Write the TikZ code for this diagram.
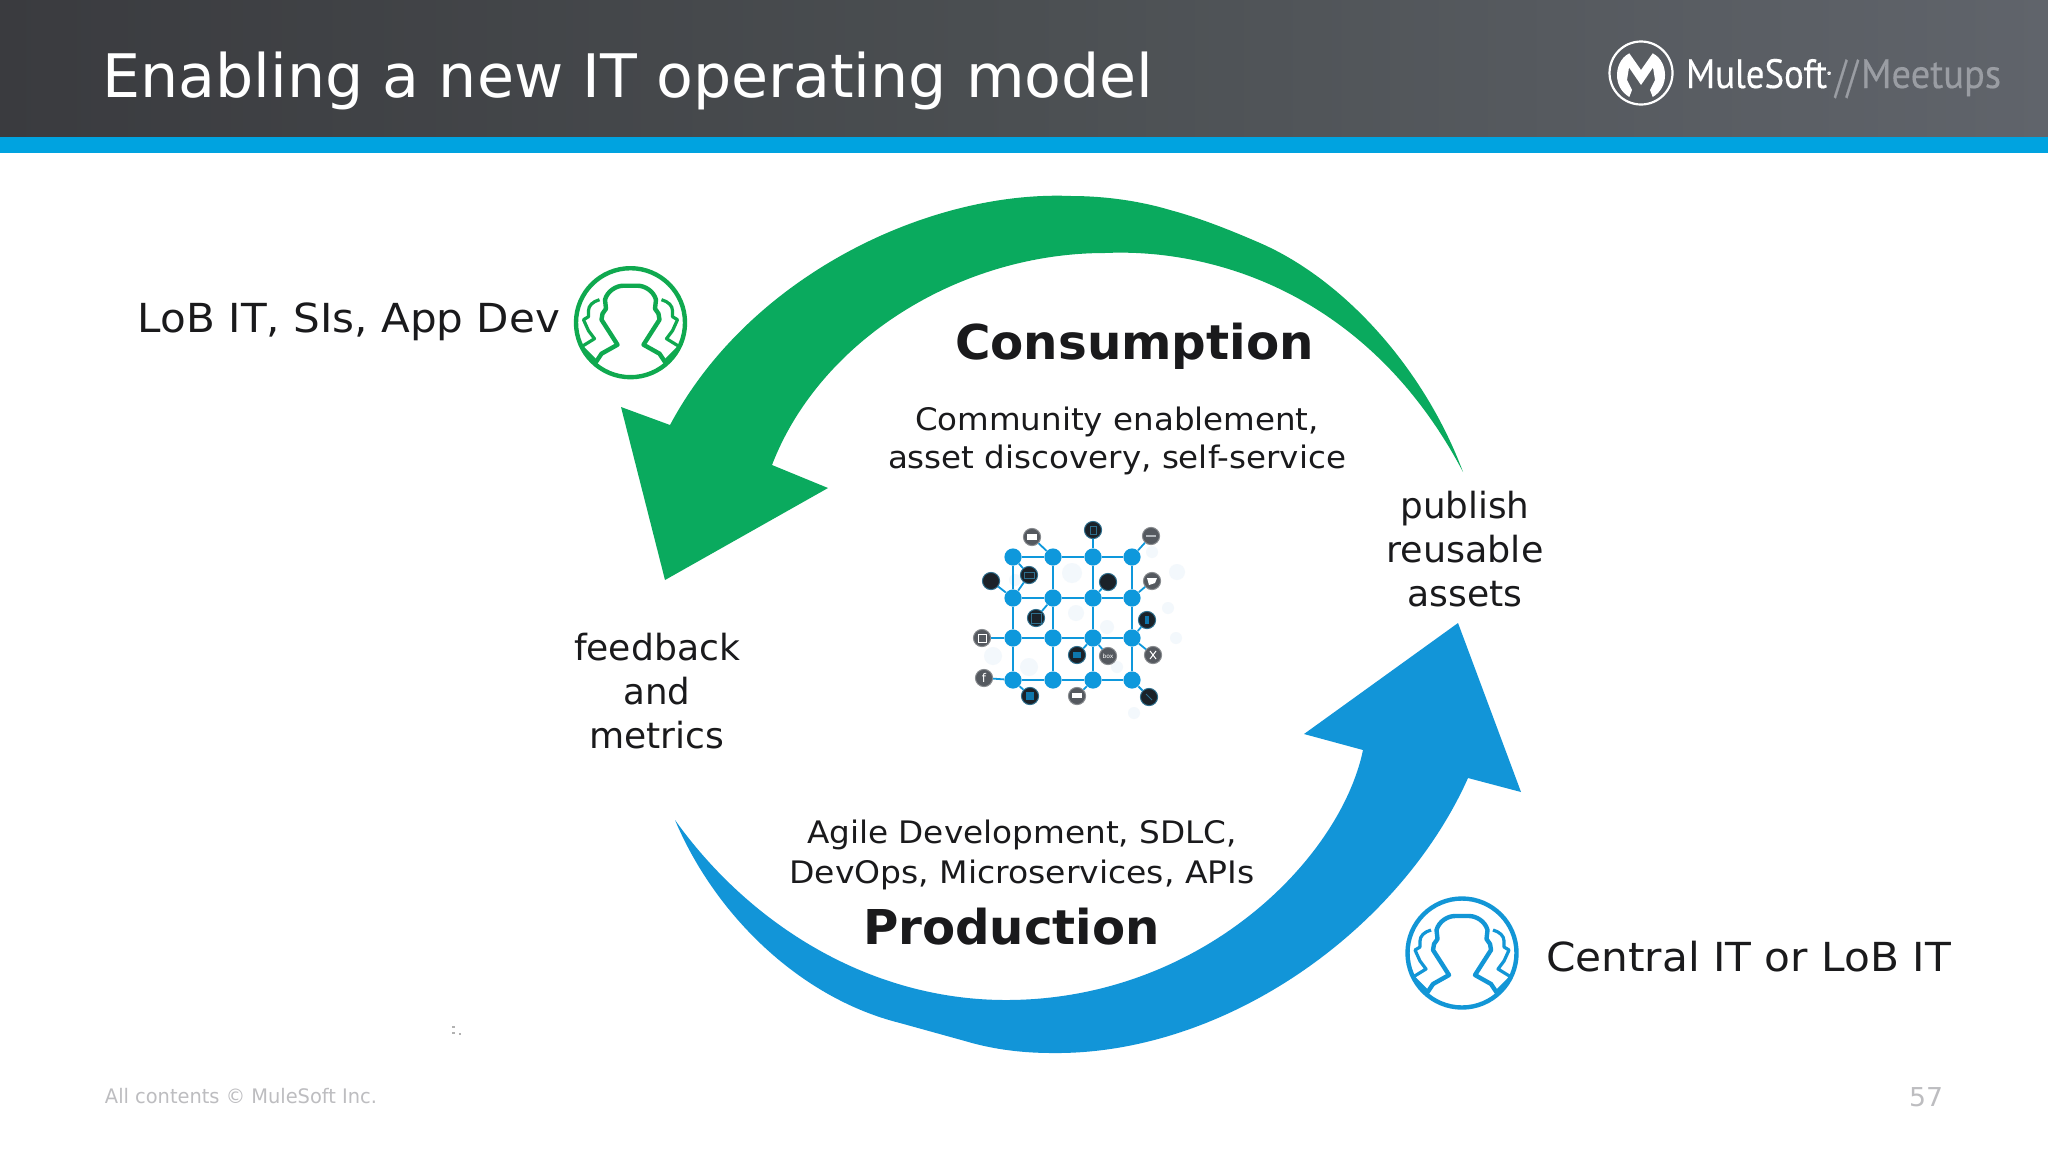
\documentclass[tikz,border=0pt]{standalone}
\usepackage{graphicx}
\usepackage{fontspec}
\setmainfont{DejaVu Sans}
\newfontfamily\logofont[FakeBold=0.35]{PT Sans}
\usetikzlibrary{calc}
\definecolor{hdA}{HTML}{3A3B3F}
\definecolor{hdB}{HTML}{4B4F52}
\definecolor{hdC}{HTML}{60646B}
\definecolor{barblue}{HTML}{00A3E0}
\definecolor{arrowgreen}{HTML}{0AAA5E}
\definecolor{arrowblue}{HTML}{1295D8}
\definecolor{icongreen}{HTML}{0FA94F}
\definecolor{iconblue}{HTML}{1296D6}
\definecolor{inktext}{HTML}{1A1A1C}
\definecolor{foot}{HTML}{BDBDC0}
\definecolor{meet}{HTML}{9A9DA3}
\definecolor{gridblue}{HTML}{0E98DC}
\definecolor{sdark}{HTML}{1B2229}
\definecolor{sgrey}{HTML}{55595F}
\definecolor{sring}{HTML}{2E6F8E}
\definecolor{haze}{HTML}{F3F8FC}
\newlength{\ux}\setlength{\ux}{0.5pt}
\newcommand{\fitw}[2]{\resizebox{#1\ux}{\height}{#2}}
\newcommand{\fs}[2][]{\fontsize{#2}{#2}\selectfont}
\tikzset{
  x=0.5pt,y=-0.5pt,
  txt/.style={inner sep=0,outer sep=0,text=inktext,anchor=base},
  grid line/.style={draw=gridblue,line width=0.9pt},
  hub/.style={circle,fill=gridblue,minimum size=8.6pt,inner sep=0},
  satd/.style={circle,fill=sdark,draw=sring,line width=0.5pt,minimum size=8.6pt,inner sep=0,text=white},
  satg/.style={circle,fill=sgrey,draw=sgrey!70,line width=0.5pt,minimum size=8.6pt,inner sep=0,text=white},
  person/.pic={
    \draw[line width=2.2pt,pic actions] (0,0) circle (54.5);
    \draw[line width=2.2pt,pic actions,line join=round]
      (-35,40) -- (-29,31) -- (-13,22) -- (-20,11) -- (-29,-3) -- (-28,-9) -- (-24.5,-14)
      -- (-25.5,-23) .. controls (-23,-32) and (-14,-37) .. (-7,-37) -- (7,-37)
      .. controls (14,-37) and (23,-32) .. (25.5,-23) -- (24.5,-14) -- (28,-9) -- (29,-3)
      -- (20,11) -- (13,22) -- (29,31) -- (35,40);
    \foreach \sx in {1,-1}{
      \draw[line width=1.6pt,pic actions,line join=round,xscale=\sx]
        (31,-23) .. controls (38,-21) and (42,-17) .. (42,-12) -- (42,-6) -- (47,-3)
        -- (42,8) -- (36,16) -- (49,24);
      \draw[line width=1.6pt,pic actions,xscale=\sx] (49,24) -- (35,38);
    }
  }
}
\begin{document}
\begin{tikzpicture}
\useasboundingbox (0,0) rectangle (2048,1152);
\fill[white] (0,0) rectangle (2048,1152);
% header
\shade[left color=hdA,right color=hdC,middle color=hdB] (0,0) rectangle (2048,137);
\fill[barblue] (0,137) rectangle (2048,153);
\node[txt,text=white] (title) at (628,97) {\fitw{1051}{\fs{30}Enabling a new IT operating model}};
% logo
\draw[white,line width=1.1pt] (1641,73) circle (31.5);
\fill[white] (1629.3,53.3) -- (1641,70) -- (1652.7,53.3)
  .. controls (1662,58) and (1665,68) .. (1665,75)
  .. controls (1665,84) and (1661,92) .. (1652.7,97)
  -- (1650,90) -- (1655,80) -- (1653,67.5) -- (1641,85) -- (1629,67.5) -- (1627,80) -- (1632,90) -- (1629.3,97)
  .. controls (1621,92) and (1617,84) .. (1617,75)
  .. controls (1617,68) and (1620,58) .. (1629.3,53.3) -- cycle;
\node[txt,text=white,anchor=base west] (mule) at (1686,88) {\fitw{141}{\logofont\fs{20.5}MuleSoft}};
\node[txt,text=white,anchor=base west] (reg) at (1827,76) {\logofont\fs{3}®};
\node[txt,text=meet,anchor=base west] (slashes) at (1835,92) {\fitw{23}{\logofont\fs{23}//}};
\node[txt,text=meet,anchor=base west] (meetups) at (1861,88) {\fitw{140}{\logofont\fs{20.5}Meetups}};
% green arrow
\fill[arrowgreen] (1463,472) .. controls (1425,370) and (1345,280) .. (1260,243)
  .. controls (1230,230) and (1200,218) .. (1170,210)
  .. controls (1140,201) and (1105,196) .. (1071,196)
  .. controls (930,190) and (750,275) .. (670,425)
  -- (621,407) -- (665,580) -- (828,488) -- (772,465)
  .. controls (820,340) and (960,253) .. (1105,253)
  .. controls (1215,248) and (1370,295) .. (1463,472) -- cycle;
% blue arrow
\fill[arrowblue] (675,820) .. controls (715,915) and (800,998) .. (900,1023)
  -- (965,1041) .. controls (995,1050) and (1025,1053) .. (1052,1053)
  .. controls (1225,1055) and (1400,930) .. (1468,778)
  -- (1521,792) -- (1458,623) -- (1304,734) -- (1363,750)
  .. controls (1340,860) and (1200,1000) .. (1006,1000)
  .. controls (870,1000) and (750,925) .. (675,820) -- cycle;
% network haze
\foreach \hx/\hy/\hr in {1072/573/10,1177/572/8,1076/613/8,993/656/9,1029/667/9,1107/627/7,1168/608/6,1152/552/6,1176/638/6,1117/667/6,1134/713/6,1015/580/6}{
  \fill[haze] (\hx,\hy) circle (\hr);
}
% network hubs
\foreach \cx/\xx in {0/1013,1/1053,2/1093,3/1132}{
  \foreach \cy/\yy in {0/557,1/598,2/638,3/680}{
    \node[hub] (h\cx\cy) at (\xx,\yy) {};
  }
}
% satellites
\node[satg] (s1) at (1032,537) {};
\node[satd] (s2) at (1093,530) {};
\node[satg] (s3) at (1151,536) {};
\node[satd] (s4) at (991,581) {};
\node[satd] (s5) at (1029,575) {};
\node[satd] (s6) at (1108,582) {};
\node[satg] (s7) at (1152,581) {};
\node[satd] (s8) at (1036,618) {};
\node[satd] (s9) at (1147,620) {};
\node[satg] (s10) at (982,638) {};
\node[satd] (s11) at (1077,655) {};
\node[satg] (s12) at (1108,656) {\fs{3}box};
\node[satg] (s13) at (1153,655) {};
\node[satg] (s14) at (984,678) {\fs{6}f};
\node[satd] (s15) at (1030,696) {};
\node[satg] (s16) at (1077,696) {};
\node[satd] (s17) at (1149,697) {};
% connectors
\begin{scope}[grid line]
\foreach \a/\b in {h00/h10,h10/h20,h20/h30,h01/h11,h11/h21,h21/h31,h02/h12,h12/h22,h22/h32,h03/h13,h13/h23,h23/h33,
  h00/h01,h01/h02,h02/h03,h10/h11,h11/h12,h12/h13,h20/h21,h21/h22,h22/h23,h30/h31,h31/h32,h32/h33,
  s1/h10,s2/h20,s3/h30,s4/h01,s5/h00,s5/h01,s6/h21,s7/h31,s8/h11,s9/h32,s10/h02,s11/h22,s12/h22,s13/h32,s14/h03,s15/h03,s16/h23,s17/h33}{
  \draw (\a) -- (\b);
}
\end{scope}
% small glyphs on satellites
\fill[white] (1027,534) rectangle (1037,540);
\fill[haze!60!sgrey] (1146,535) rectangle (1156,537);
\draw[sring,line width=0.35pt] (1090,526) rectangle (1096,534);
\fill[white] (1147,578) -- (1157,578) -- (1155,583) -- (1149,585) -- cycle;
\draw[sring,line width=0.35pt] (1024,572) rectangle (1034,578);
\draw[sring,line width=0.35pt] (1031,613) rectangle (1041,623);
\draw[white,line width=0.4pt] (978,634) rectangle (986,642);
\fill[arrowblue!80!black] (1026,692) rectangle (1034,700);
\fill[white] (1072,693) rectangle (1082,698);
\draw[sring,line width=0.4pt] (1146,694) -- (1152,700);
\draw[white,line width=0.5pt] (1150,651) -- (1156,659) (1156,651) -- (1150,659);
\fill[arrowblue!80!black] (1073,652) rectangle (1081,658);
\fill[arrowblue!80!black] (1145,616) rectangle (1149,624);
% people
\pic[draw=icongreen] (pgreen) at (630.5,322.7) {person};
\pic[draw=iconblue] (pblue) at (1462,953) {person};
% labels
\node[txt,anchor=base] (lob) at (349,332) {\fitw{422}{\fs{20}LoB IT, SIs, App Dev}};
\node[txt,anchor=base] (cen) at (1748.5,971) {\fitw{405}{\fs{20}Central IT or LoB IT}};
\node[txt,anchor=base] (cons) at (1134.5,359) {\fitw{359}{\fs{24}\bfseries Consumption}};
\node[txt,align=center,anchor=center,font=\fontsize{15.5}{19.3}\selectfont] (consd) at (1117,441) {\fitw{404}{Community enablement,}\\\fitw{458}{asset discovery, self-service}};
\node[txt,align=center,anchor=center,font=\fontsize{18}{22.2}\selectfont] (pub) at (1465,549) {\fitw{129}{publish}\\\fitw{157}{reusable}\\\fitw{115}{assets}};
\node[txt,align=center,anchor=center,font=\fontsize{18}{22.2}\selectfont] (fb) at (657,691) {\fitw{166}{feedback}\\\fitw{67}{and}\\\fitw{135}{metrics}};
\node[txt,align=center,anchor=center,font=\fontsize{15.5}{19.8}\selectfont] (prodd) at (1022,855) {\fitw{430}{Agile Development, SDLC,}\\\fitw{465}{DevOps, Microservices, APIs}};
\node[txt,anchor=base] (prod) at (1011.5,944) {\fitw{297}{\fs{24}\bfseries Production}};
\node[txt,text=foot,anchor=base] (copy) at (241,1103) {\fitw{272}{\fs{10}All contents © MuleSoft Inc.}};
\node[txt,text=foot,anchor=base] (pg) at (1926,1106) {\fitw{34}{\fs{13}57}};
% scanning speck
\fill[gray!60] (452,1026) rectangle (455,1028);
\fill[gray!60] (452,1032) rectangle (455,1034);
\fill[gray!60] (459,1033) rectangle (461,1035);
\end{tikzpicture}
\end{document}
